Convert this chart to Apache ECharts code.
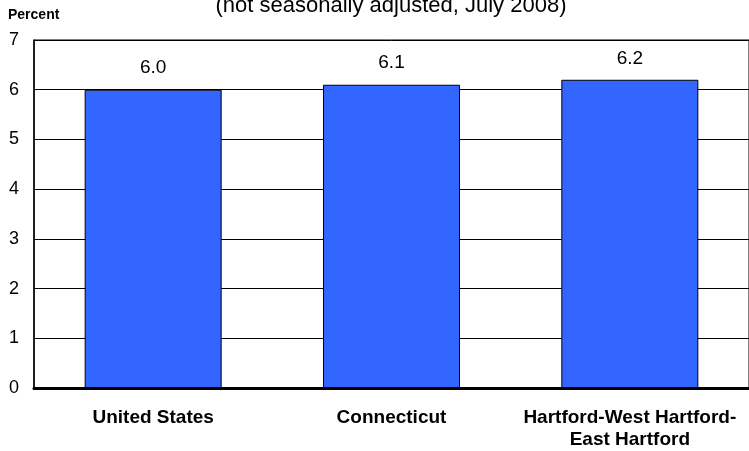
<!DOCTYPE html>
<html><head><meta charset="utf-8">
<script src="https://cdn.jsdelivr.net/npm/echarts@6/dist/echarts.min.js"></script>
<style>html,body{margin:0;padding:0;background:#fff}#c{width:749px;height:451px}</style>
</head><body><div id="c"></div>
<script>
var categories = ['United States', 'Connecticut', 'Hartford-West Hartford-\nEast Hartford'];
var values = [6.0, 6.1, 6.2];
var yTicks = [0, 1, 2, 3, 4, 5, 6, 7];

var FONT = 'Arial, "Liberation Sans", sans-serif';
var chart = echarts.init(document.getElementById('c'), null, {renderer: 'canvas'});
chart.setOption({
  animation: false,
  backgroundColor: '#fff',
  textStyle: {fontFamily: FONT},
  graphic: [
    {type: 'text', x: 391, y: 6, style: {text: '(not seasonally adjusted, July 2008)', font: '22px ' + FONT, fill: '#000', textAlign: 'center', textVerticalAlign: 'middle'}},
    {type: 'text', x: 8, y: 15, style: {text: 'Percent', font: 'bold 14px ' + FONT, fill: '#000', textAlign: 'left', textVerticalAlign: 'middle'}}
  ],
  grid: {left: 34, right: 0, top: 40, bottom: 61, show: true, borderColor: '#000', borderWidth: 1},
  xAxis: {
    type: 'category', data: categories,
    axisLine: {show: true, lineStyle: {color: '#000', width: 3}},
    axisTick: {show: false},
    axisLabel: {interval: 0, hideOverlap: false, color: '#000', fontWeight: 'bold', fontSize: 19, margin: 19, lineHeight: 22, fontFamily: FONT}
  },
  yAxis: {
    type: 'value', min: yTicks[0], max: yTicks[yTicks.length - 1], interval: 1,
    axisLine: {show: true, lineStyle: {color: '#000', width: 1.5}},
    axisTick: {show: false},
    axisLabel: {color: '#000', fontSize: 18, margin: 15, fontFamily: FONT},
    splitLine: {show: true, lineStyle: {color: '#000', width: 1}}
  },
  series: [{
    type: 'bar', data: values, barWidth: 137,
    itemStyle: {color: '#3366FF', borderColor: '#000', borderWidth: 1},
    label: {show: true, position: 'top', distance: 12, color: '#000', fontSize: 19, fontFamily: FONT,
      formatter: function (p) { return p.value.toFixed(1); }}
  }]
});
</script></body></html>
